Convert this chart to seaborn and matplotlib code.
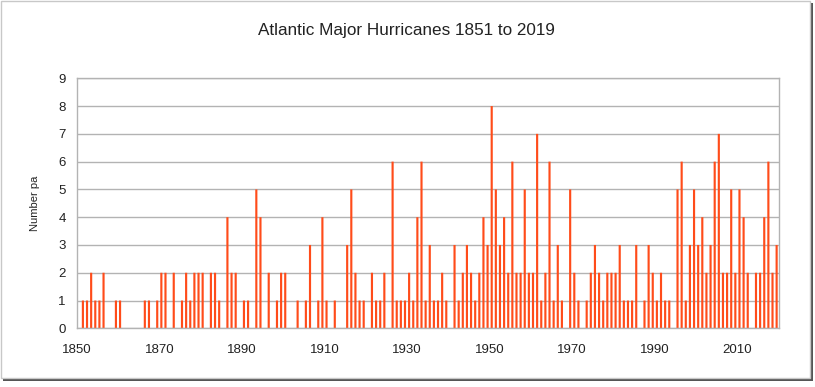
import numpy as np
import pandas as pd
import matplotlib
matplotlib.use('Agg')
import matplotlib.pyplot as plt
from matplotlib.patches import Rectangle
import seaborn as sns

# Atlantic major hurricanes per year
years = list(range(1851, 2020))
counts = [
    1, 1, 2, 1, 1, 2, 0, 0, 1, 1,        # 1851-1860
    0, 0, 0, 0, 0, 1, 1, 0, 1, 2,        # 1861-1870
    2, 0, 2, 0, 1, 2, 1, 2, 2, 2,        # 1871-1880
    0, 2, 2, 1, 0, 4, 2, 2, 0, 1,        # 1881-1890
    1, 0, 5, 4, 0, 2, 0, 1, 2, 2,        # 1891-1900
    0, 0, 1, 0, 1, 3, 0, 1, 4, 1,        # 1901-1910
    0, 1, 0, 0, 3, 5, 2, 1, 1, 0,        # 1911-1920
    2, 1, 1, 2, 0, 6, 1, 1, 1, 2,        # 1921-1930
    1, 4, 6, 1, 3, 1, 1, 2, 1, 0,        # 1931-1940
    3, 1, 2, 3, 2, 1, 2, 4, 3, 8,        # 1941-1950
    5, 3, 4, 2, 6, 2, 2, 5, 2, 2,        # 1951-1960
    7, 1, 2, 6, 1, 3, 1, 0, 5, 2,        # 1961-1970
    1, 0, 1, 2, 3, 2, 1, 2, 2, 2,        # 1971-1980
    3, 1, 1, 1, 3, 0, 1, 3, 2, 1,        # 1981-1990
    2, 1, 1, 0, 5, 6, 1, 3, 5, 3,        # 1991-2000
    4, 2, 3, 6, 7, 2, 2, 5, 2, 5,        # 2001-2010
    4, 2, 0, 2, 2, 4, 6, 2, 3,           # 2011-2019
]
tick_years = list(range(1850, 2011, 20))

df = pd.DataFrame({'year': years, 'count': counts})

sns.set_style('white')
plt.rcParams['font.family'] = ['Liberation Sans', 'DejaVu Sans']

fig = plt.figure(figsize=(8.15, 3.87), dpi=100)

# screenshot-like frame with a dark shadow edge
fig.add_artist(Rectangle((3 / 815, 6 / 387), 810 / 815, 378 / 387,
                         transform=fig.transFigure, facecolor='#555555',
                         edgecolor='none', zorder=-3))
fig.add_artist(Rectangle((1 / 815, 9 / 387), 809 / 815, 377 / 387,
                         transform=fig.transFigure, facecolor='white',
                         edgecolor='#c8c8c8', linewidth=1, zorder=-2))

ax = fig.add_axes([76.7 / 815, 58.7 / 387, 702 / 815, 250 / 387])
ax.set_facecolor('white')

sns.barplot(data=df, x='year', y='count', native_scale=True, width=0.52,
            color='#ff4c1a', saturation=1, errorbar=None, linewidth=0, ax=ax)
# no pixel snapping, so every bar gets the same soft width
for p in ax.patches:
    p.set_snap(False)

ax.set_xlim(1849.5, 2019.5)
ax.set_ylim(0, 9)
ax.set_yticks(range(0, 10))
ax.set_xticks([y - 0.5 for y in tick_years], labels=[str(y) for y in tick_years])

ax.grid(axis='y', color='#b3b3b3', linewidth=1)
ax.set_axisbelow(True)
for s in ax.spines.values():
    s.set_color('#b3b3b3')
    s.set_linewidth(1)

ax.tick_params(axis='both', direction='out', length=5, width=1, color='#b3b3b3',
               labelsize=9.5, labelcolor='#222222', pad=3)
ax.tick_params(axis='x', pad=6)

ax.set_xlabel('')
ax.set_ylabel('Number pa', fontsize=8, color='#222222')
ax.yaxis.set_label_coords(-0.052, 0.5)

fig.text(406 / 815, 1 - 30 / 387, 'Atlantic Major Hurricanes 1851 to 2019',
         ha='center', va='center', fontsize=12.3, color='#222222')

fig.savefig('out.png', dpi=100)
